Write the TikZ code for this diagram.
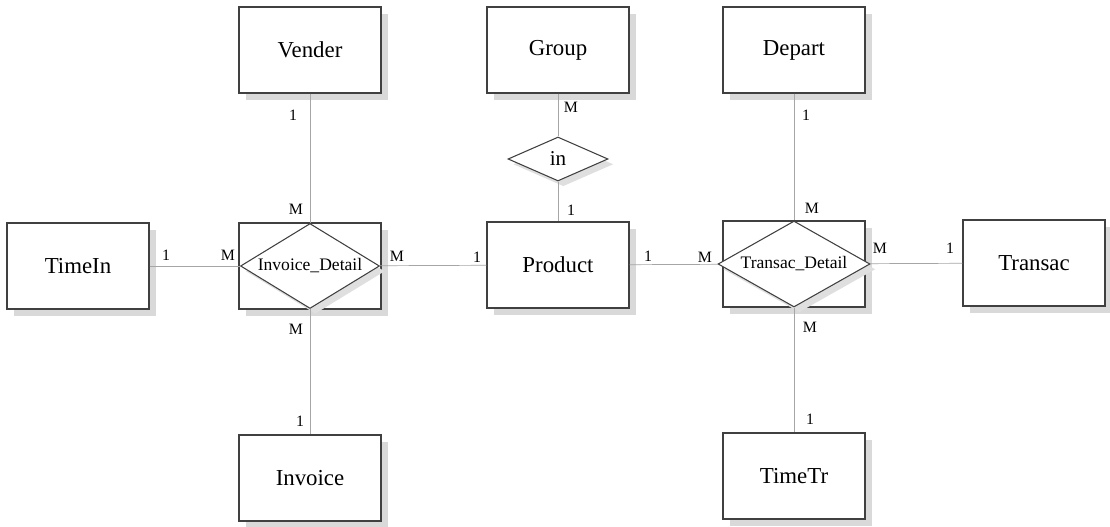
\documentclass[tikz,border=0pt]{standalone}
\usepackage{fontspec}
\setmainfont{Liberation Serif}
\usetikzlibrary{shapes.geometric,shadows}

\tikzset{
  entity/.style={draw=black!75, fill=white, line width=0.6pt,
    minimum width=2.84cm, minimum height=1.72cm,
    font=\fontsize{13}{15}\selectfont,
    drop shadow={shadow xshift=4pt, shadow yshift=-4pt, fill=gray!30, opacity=1}},
  relation/.style={draw=black!75, fill=white, line width=0.6pt, diamond,
    inner sep=0pt, font=\fontsize{10}{12}\selectfont,
    drop shadow={shadow xshift=3pt, shadow yshift=-3pt, fill=gray!25, opacity=1}},
  link/.style={draw=gray!70, line width=0.4pt},
  card/.style={font=\fontsize{9}{11}\selectfont, inner sep=0pt}
}

\begin{document}
\begin{tikzpicture}[x=0.02cm, y=-0.02cm]
	\useasboundingbox[fill=white] (0,0) rectangle (1110,527);

	\coordinate (pvender) at (310,50);
	\coordinate (pgroup) at (558,50);
	\coordinate (pdepart) at (794,50);

	% entities
	\node[entity] (vender) at (pvender) {Vender};
	\node[entity] (group) at (pgroup) {Group};
	\node[entity] (depart) at (pdepart) {Depart};
	\node[entity] (timein) at (78,266) {TimeIn};
	\node[entity] (invdetbox) at (310,266) {};
	\node[relation, aspect=1.64, minimum width=2.78cm, minimum height=1.70cm] (invdet) at (310,266) {Invoice\_Detail};
	\node[entity] (product) at (558,265) {Product};
	\node[entity] (trdetbox) at (794,264) {};
	\node[relation, aspect=1.77, minimum width=3.04cm, minimum height=1.72cm] (trdet) at (794,264) {Transac\_Detail};
	\node[entity] (transac) at (1034,263) {Transac};
	\node[entity] (invoice) at (310,478) {Invoice};
	\node[entity] (timetr) at (794,476) {TimeTr};
	\node[relation, aspect=2.27, minimum width=2cm, minimum height=0.88cm, font=\fontsize{12}{14}\selectfont] (in) at (558,159) {in};

	% lines
	\draw[link] (vender) -- (invdet);
	\draw[link] (invdet) -- (invoice);
	\draw[link] (timein) -- (invdet);
	\draw[link] (invdet) -- (product);
	\draw[link] (group) -- (in);
	\draw[link] (in) -- (product);
	\draw[link] (product) -- (trdet);
	\draw[link] (trdet) -- (transac);
	\draw[link] (depart) -- (trdet);
	\draw[link] (trdet) -- (timetr);

	% cardinalities
	\node[card] (c1) at (293,115) {1};
	\node[card] (c2) at (296,209) {M};
	\node[card] (c3) at (296,329) {M};
	\node[card] (c4) at (300,421) {1};
	\node[card] (c5) at (166,255) {1};
	\node[card] (c6) at (228,255) {M};
	\node[card] (c7) at (397,256) {M};
	\node[card] (c8) at (477,257) {1};
	\node[card] (c9) at (571,107) {M};
	\node[card] (c10) at (571,210) {1};
	\node[card] (c11) at (648,256) {1};
	\node[card] (c12) at (705,257) {M};
	\node[card] (c13) at (880,248) {M};
	\node[card] (c14) at (950,248) {1};
	\node[card] (c15) at (806,115) {1};
	\node[card] (c16) at (812,208) {M};
	\node[card] (c17) at (810,327) {M};
	\node[card] (c18) at (810,419) {1};
\end{tikzpicture}
\end{document}
